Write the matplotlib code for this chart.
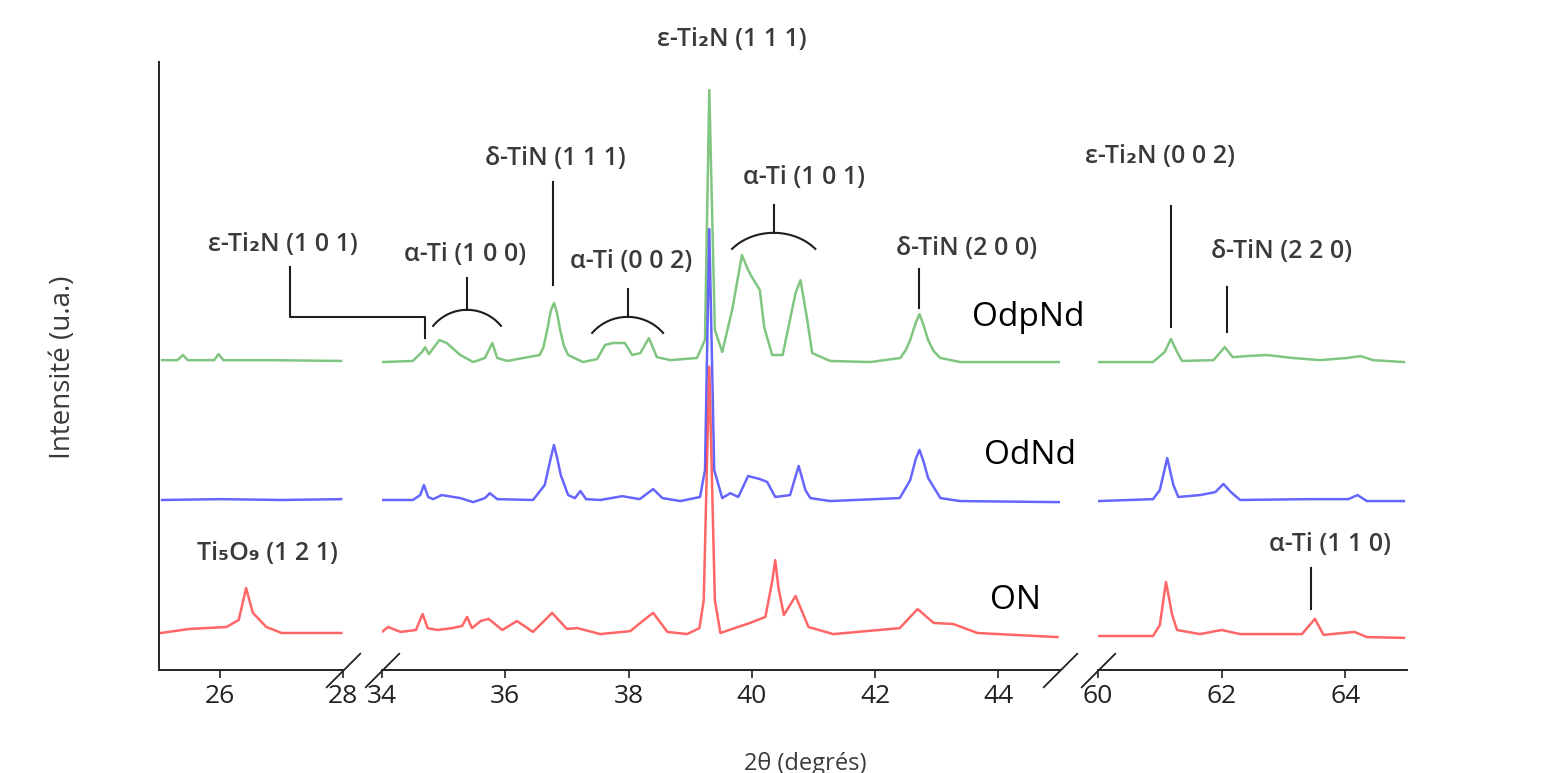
import numpy as np
import matplotlib
matplotlib.use("Agg")
import matplotlib.pyplot as plt

plt.rcParams["font.family"] = ["Open Sans", "DejaVu Sans"]

# ---------------------------------------------------------------------------
# Data: (2theta, normalised intensity).
# None marks an axis break.
# ---------------------------------------------------------------------------
GREEN = [(25.05, 0.7), (25.30, 0.7), (25.39, 2.6), (25.47, 0.7), (25.90, 0.7),
         (25.97, 2.9), (26.05, 0.7), (26.80, 0.7), (27.97, 0.4), None,
         (34.00, 0.0), (34.50, 0.4), (34.65, 3.7), (34.70, 5.5), (34.76, 2.9),
         (34.93, 8.1), (35.05, 7.0), (35.27, 2.6), (35.48, 0.0), (35.67, 1.5),
         (35.79, 7.0), (35.87, 1.5), (36.03, 0.4), (36.56, 2.6), (36.62, 5.5),
         (36.69, 12.9), (36.74, 19.0), (36.79, 21.7), (36.84, 18.0), (36.89, 11.8),
         (36.95, 6.0), (37.02, 2.6), (37.26, 0.0), (37.49, 1.1), (37.62, 6.3),
         (37.75, 7.0), (37.94, 7.0), (38.06, 2.6), (38.19, 3.3), (38.33, 8.8),
         (38.46, 1.8), (38.68, 0.7), (39.11, 1.5), (39.24, 8.1), (39.31, 100.0),
         (39.40, 11.8), (39.52, 3.7), (39.68, 19.1), (39.84, 39.3), (39.94, 33.8),
         (40.00, 31.3), (40.13, 26.5), (40.20, 12.9), (40.33, 2.6), (40.50, 2.6),
         (40.71, 25.4), (40.79, 30.1), (40.90, 15.4), (40.98, 3.3), (41.27, 0.4),
         (41.92, 0.0), (42.41, 1.5), (42.50, 4.5), (42.57, 8.1), (42.66, 14.5),
         (42.72, 17.6), (42.78, 14.0), (42.86, 8.1), (42.95, 4.0), (43.06, 1.5),
         (43.38, 0.0), (45.00, 0.0), None,
         (60.00, 0.0), (60.89, 0.0), (61.08, 3.7), (61.18, 8.5), (61.28, 3.7),
         (61.36, 0.4), (61.87, 0.7), (62.05, 5.5), (62.18, 1.8), (62.40, 2.2),
         (62.73, 2.6), (63.15, 1.5), (63.59, 0.7), (64.03, 1.5), (64.25, 2.2),
         (64.45, 0.7), (64.95, 0.0)]

BLUE = [(25.05, 0.4), (26.00, 0.7), (27.00, 0.4), (27.97, 0.7), None,
        (34.00, 0.4), (34.50, 0.4), (34.62, 2.2), (34.68, 5.9), (34.75, 1.5),
        (34.83, 0.7), (34.97, 2.2), (35.27, 1.1), (35.48, -0.4), (35.67, 1.1),
        (35.75, 2.9), (35.87, 0.7), (36.45, 0.4), (36.64, 5.9), (36.74, 16.0),
        (36.79, 20.6), (36.84, 16.0), (36.90, 9.6), (37.02, 2.2), (37.13, 1.1),
        (37.22, 3.7), (37.31, 0.7), (37.54, 0.4), (37.90, 1.8), (38.18, 0.7),
        (38.40, 4.4), (38.55, 1.1), (38.84, 0.0), (39.16, 1.5), (39.24, 11.4),
        (39.31, 100.0), (39.39, 11.4), (39.52, 1.1), (39.65, 2.9), (39.78, 1.5),
        (39.94, 9.2), (40.13, 8.1), (40.25, 7.0), (40.38, 1.5), (40.62, 2.2),
        (40.76, 12.9), (40.87, 4.0), (40.95, 1.1), (41.27, 0.0), (42.40, 1.1),
        (42.57, 7.7), (42.66, 15.5), (42.72, 18.8), (42.78, 15.0), (42.86, 8.5),
        (43.06, 1.1), (43.38, 0.0), (45.00, -0.4), None,
        (60.00, 0.0), (60.89, 0.7), (61.00, 4.0), (61.12, 15.8), (61.22, 5.9),
        (61.30, 1.5), (61.65, 2.2), (61.90, 3.3), (62.03, 6.3), (62.15, 3.3),
        (62.30, 0.4), (63.39, 0.7), (64.05, 0.7), (64.20, 2.2), (64.35, 0.0),
        (64.95, 0.0)]

RED = [(25.03, 1.1), (25.50, 2.6), (26.10, 3.3), (26.30, 5.9), (26.42, 17.6),
       (26.53, 8.5), (26.75, 3.3), (27.00, 1.1), (27.97, 1.1), None,
       (34.00, 1.5), (34.10, 3.3), (34.30, 1.5), (34.55, 2.2), (34.66, 8.1),
       (34.74, 2.9), (34.90, 2.2), (35.14, 2.9), (35.30, 3.7), (35.38, 7.0),
       (35.46, 2.9), (35.60, 5.5), (35.73, 6.3), (35.95, 2.2), (36.19, 5.5),
       (36.45, 1.5), (36.76, 8.5), (37.00, 2.6), (37.17, 2.9), (37.54, 0.7),
       (38.03, 1.8), (38.25, 5.9), (38.40, 8.5), (38.63, 1.5), (38.95, 0.7),
       (39.15, 2.9), (39.22, 13.2), (39.31, 99.0), (39.40, 13.2), (39.49, 1.1),
       (39.97, 4.8), (40.22, 7.0), (40.33, 20.0), (40.38, 27.9), (40.43, 18.0),
       (40.52, 7.7), (40.71, 14.7), (40.92, 3.3), (41.32, 0.7), (42.40, 2.9),
       (42.69, 9.9), (42.95, 4.8), (43.27, 4.4), (43.66, 1.1), (44.96, -0.4), None,
       (60.00, 0.0), (60.89, 0.0), (61.00, 4.0), (61.10, 19.9), (61.20, 7.7),
       (61.28, 2.2), (61.65, 0.7), (62.00, 2.2), (62.30, 0.7), (63.30, 0.7),
       (63.51, 6.3), (63.65, 0.4), (64.15, 1.5), (64.35, -0.4), (64.95, -0.7)]

SAMPLES = ["OdpNd", "OdNd", "ON"]
OFFSETS = [113.2, 62.1, 12.5]

SEGMENTS = [(25, 28), (34, 45), (60, 65)]
SEG_TICKS = [[26, 28], [34, 36, 38, 40, 42, 44], [60, 62, 64]]
YMAX = 223.5

# ---------------------------------------------------------------------------
# Figure / broken x axis
# ---------------------------------------------------------------------------
W, H = 1546, 773
fig = plt.figure(figsize=(W / 100, H / 100), dpi=100)
rects = [(159, 343), (382, 1060), (1098, 1407)]
bottom, top = 1 - 670 / H, 1 - 62 / H

axes = []
for (lo, hi), (px0, px1), ticks in zip(SEGMENTS, rects, SEG_TICKS):
    ax = fig.add_axes([px0 / W, bottom, (px1 - px0) / W, top - bottom])
    ax.set_xlim(lo, hi)
    ax.set_ylim(0, YMAX)
    ax.set_xticks(ticks)
    ax.set_yticks([])
    ax.tick_params(axis="x", direction="out", length=6, width=1.2,
                   labelsize=19, pad=4, colors="#222222")
    for side in ("top", "right", "left"):
        ax.spines[side].set_visible(False)
    ax.spines["bottom"].set_linewidth(1.4)
    ax.spines["bottom"].set_color("#222222")
    ax.patch.set_alpha(0)
    axes.append(ax)

axes[0].spines["left"].set_visible(True)
axes[0].spines["left"].set_linewidth(1.4)
axes[0].spines["left"].set_color("#222222")

# break marks
slash = dict(marker=[(-1, -1), (1, 1)], markersize=25, linestyle="none",
             color="#222222", mec="#222222", mew=1.3, clip_on=False)
axes[0].plot([1], [0], transform=axes[0].transAxes, **slash)
axes[1].plot([0, 1], [0, 0], transform=axes[1].transAxes, **slash)
axes[2].plot([0], [0], transform=axes[2].transAxes, **slash)


def to_arrays(points):
    x = np.array([np.nan if p is None else p[0] for p in points])
    y = np.array([np.nan if p is None else p[1] for p in points])
    return x, y


# traces
for pts, col, off in zip([GREEN, BLUE, RED], ["#2ca02c", "#0000ff", "#ff0000"], OFFSETS):
    x, y = to_arrays(pts)
    for ax in axes:
        ax.plot(x, y + off, color=col, lw=1.8, alpha=0.6, solid_joinstyle="round")

# ---------------------------------------------------------------------------
# Peak annotations
# ---------------------------------------------------------------------------
TXT = dict(fontsize=18, fontweight="semibold", color="#3a3a3a", ha="center",
           va="center", clip_on=False)
LINE = dict(color="#1e1e1e", lw=1.5, clip_on=False)


def mark(ax, x, y0, y1):
    ax.plot([x, x], [y0, y1], **LINE)


def cap(ax, x0, x1, y_end, rise, tick_top):
    """Curved bracket grouping two peaks, with a short stem on top."""
    th = np.radians(50)
    a = (x1 - x0) / 2 / np.sin(th)
    b = rise / (1 - np.cos(th))
    t = np.linspace(-th, th, 40)
    xm = (x0 + x1) / 2
    ax.plot(xm + a * np.sin(t), y_end + b * (np.cos(t) - np.cos(th)), **LINE)
    mark(ax, xm, y_end + rise, tick_top)


ax1, ax2, ax3 = axes

ax2.text(39.67, 231.6, "ε-Ti₂N (1 1 1)", **TXT)

ax2.text(36.81, 188.2, "δ-TiN (1 1 1)", **TXT)
mark(ax2, 36.78, 179.4, 141.5)

ax2.text(35.35, 152.6, "α-Ti (1 0 0)", **TXT)
cap(ax2, 34.83, 35.93, 126.5, 5.9, 144.1)

ax2.text(38.04, 150.0, "α-Ti (0 0 2)", **TXT)
cap(ax2, 37.41, 38.56, 123.9, 5.9, 140.1)

ax2.text(40.85, 180.9, "α-Ti (1 0 1)", **TXT)
cap(ax2, 39.68, 41.03, 154.8, 5.9, 171.0)

ax2.text(43.48, 155.1, "δ-TiN (2 0 0)", **TXT)
mark(ax2, 42.72, 147.4, 133.1)

ax3.text(61.0, 188.6, "ε-Ti₂N (0 0 2)", **TXT)
mark(ax3, 61.18, 170.6, 126.1)

ax3.text(62.97, 154.0, "δ-TiN (2 2 0)", **TXT)
mark(ax3, 62.09, 140.8, 124.3)

ax3.text(63.76, 46.0, "α-Ti (1 1 0)", **TXT)
mark(ax3, 63.45, 37.5, 22.4)

ax1.text(26.77, 43.0, "Ti₅O₉ (1 2 1)", **TXT)

ax1.text(27.02, 156.3, "ε-Ti₂N (1 0 1)", **TXT)
ax2.plot([32.51, 32.51, 34.70, 34.70], [148.2, 129.8, 129.8, 122.1], **LINE)

# sample names
for name, (x, y) in zip(SAMPLES, [(43.58, 129.4), (43.76, 79.0), (43.87, 25.7)]):
    ax2.text(x, y, name, fontsize=24, color="black", ha="left", va="center",
             clip_on=False)

fig.text(63 / W, 1 - 367 / H, "Intensité (u.a.)", rotation=90, fontsize=20,
         color="#3a3a3a", ha="center", va="center")
fig.text(805 / W, 1 - 764 / H, "2θ (degrés)", fontsize=17, color="#3a3a3a",
         ha="center", va="center")

fig.savefig("out.png", dpi=100, facecolor="white")
